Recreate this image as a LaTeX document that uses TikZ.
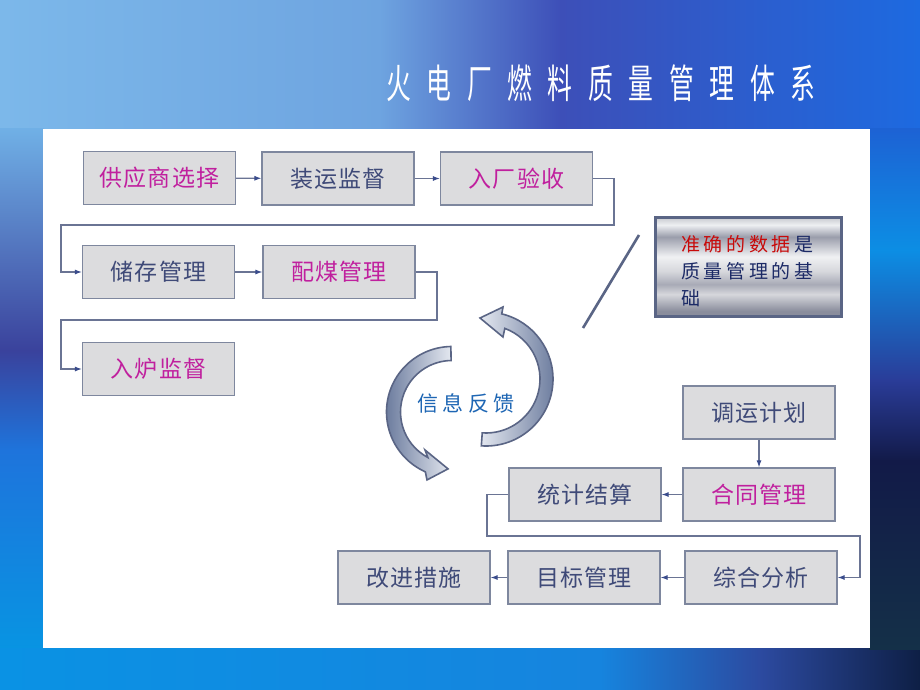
\documentclass[tikz,border=0pt]{standalone}
\usepackage{fontspec}
\setmainfont{Noto Sans CJK SC}
\newfontfamily\boxfont[LetterSpace=5]{Noto Sans CJK SC}
\newfontfamily\notefont[LetterSpace=19]{Noto Sans CJK SC}
\newfontfamily\fbfont[LetterSpace=22]{Noto Sans CJK SC}
\newfontfamily\titlefont[LetterSpace=63]{Noto Sans CJK SC}
\usetikzlibrary{arrows.meta}
\definecolor{boxfill}{HTML}{DCDCDE}
\definecolor{boxdraw}{HTML}{7E879E}
\definecolor{txtblue}{HTML}{3F4A78}
\definecolor{txtmag}{HTML}{C0209E}
\definecolor{lineclr}{HTML}{6A7494}
\definecolor{tipclr}{HTML}{3A4C8C}
\definecolor{calloutdraw}{HTML}{5A6585}
\definecolor{fbblue}{HTML}{1E66B4}
\definecolor{notered}{HTML}{C80A0A}
\definecolor{notenavy}{HTML}{1C2A66}
\definecolor{mta}{HTML}{C6C8CE}
\definecolor{mtb}{HTML}{EEF0F2}
\definecolor{mtc}{HTML}{9A9DAB}
\definecolor{mtd}{HTML}{F0F1F3}
\definecolor{mte}{HTML}{D6D7DC}
\definecolor{mtf}{HTML}{A8AAB6}
\definecolor{mtg}{HTML}{D6D7DC}
\definecolor{mth}{HTML}{8A8D9C}
\definecolor{arlight}{HTML}{E4E8F0}
\definecolor{ardark}{HTML}{6C7C9E}
\pgfdeclareverticalshading{metalband}{100bp}{color(0bp)=(mth); color(25bp)=(mth); color(27.5bp)=(mth); color(36bp)=(mtg); color(41bp)=(mtf); color(47.5bp)=(mte); color(55bp)=(mtd); color(65bp)=(mtc); color(71bp)=(mtb); color(75bp)=(mta); color(100bp)=(mta)}
\begin{document}
\begin{tikzpicture}[x=1pt,y=-1pt,
  stepbox/.style={draw=boxdraw, line width=1.2pt, fill=boxfill, minimum width=152pt, minimum height=53pt, inner sep=0pt, font=\boxfont\fontsize{23}{23}\selectfont, text=txtblue},
  hot/.style={text=txtmag},
  conn/.style={draw=lineclr, line width=1.1pt, -{Latex[length=7pt,width=5pt,color=tipclr]}},
  cyclearrow/.style={draw=calloutdraw, line width=1.6pt}]
\useasboundingbox (0,0) rectangle (920,690);
% background
\fill[blue!60!cyan] (0,0) rectangle (920,690);
\shade[left color={rgb,255:red,124;green,184;blue,234}, right color={rgb,255:red,110;green,164;blue,224}] (0,0) rectangle (380,129);
\shade[left color={rgb,255:red,110;green,164;blue,224}, right color={rgb,255:red,61;green,79;blue,184}] (379,0) rectangle (561,129);
\shade[left color={rgb,255:red,61;green,79;blue,184}, right color={rgb,255:red,29;green,106;blue,224}] (560,0) rectangle (920,129);
\shade[top color={rgb,255:red,112;green,176;blue,230}, bottom color={rgb,255:red,58;green,66;blue,156}] (0,128) rectangle (44,351);
\shade[top color={rgb,255:red,58;green,66;blue,156}, bottom color={rgb,255:red,30;green,116;blue,220}] (0,350) rectangle (44,451);
\shade[top color={rgb,255:red,30;green,116;blue,220}, bottom color={rgb,255:red,8;green,148;blue,226}] (0,450) rectangle (44,649);
\shade[left color={rgb,255:red,10;green,146;blue,228}, right color={rgb,255:red,22;green,132;blue,222}] (0,648) rectangle (601,690);
\shade[left color={rgb,255:red,22;green,132;blue,222}, right color={rgb,255:red,44;green,74;blue,160}] (600,648) rectangle (761,690);
\shade[left color={rgb,255:red,44;green,74;blue,160}, right color={rgb,255:red,14;green,31;blue,69}] (760,648) rectangle (920,690);
\shade[top color={rgb,255:red,29;green,98;blue,212}, bottom color={rgb,255:red,12;green,142;blue,228}] (869,128) rectangle (920,251);
\shade[top color={rgb,255:red,12;green,142;blue,228}, bottom color={rgb,255:red,42;green,60;blue,152}] (869,250) rectangle (920,381);
\shade[top color={rgb,255:red,42;green,60;blue,152}, bottom color={rgb,255:red,18;green,26;blue,72}] (869,380) rectangle (920,461);
\shade[top color={rgb,255:red,18;green,26;blue,72}, bottom color={rgb,255:red,20;green,48;blue,72}] (869,460) rectangle (920,649);
\fill[white] (43,129) rectangle (870,648);
% title
\node[anchor=west, text=white, inner sep=0pt] (title) at (386,83) {\scalebox{0.62}[1]{\titlefont\fontsize{40}{40}\selectfont 火电厂燃料质量管理体系}};
% boxes
\node[stepbox, hot] (sup) at (159.5,178) {供应商选择};
\node[stepbox] (ship) at (338,178.5) {装运监督};
\node[stepbox, hot] (recv) at (516.5,178.5) {入厂验收};
\node[stepbox] (store) at (158.5,272) {储存管理};
\node[stepbox, hot] (blend) at (339,272) {配煤管理};
\node[stepbox, hot] (feed) at (158.5,369) {入炉监督};
\node[stepbox] (plan) at (759,412.5) {调运计划};
\node[stepbox, hot] (contract) at (759,494.5) {合同管理};
\node[stepbox] (stat) at (585,494.5) {统计结算};
\node[stepbox] (improve) at (414,577.5) {改进措施};
\node[stepbox] (target) at (584,577.5) {目标管理};
\node[stepbox] (analysis) at (761,577.5) {综合分析};
% bend points
\coordinate (k1) at (614,225);
\coordinate (k2) at (61,225);
\coordinate (k3) at (437,320);
\coordinate (k4) at (61,320);
\coordinate (k5) at (487,536);
\coordinate (k6) at (860,536);
% connectors
\draw[conn] (sup) -- (ship);
\draw[conn] (ship) -- (recv);
\draw[conn] (recv.east) -| (k1) -- (k2) |- (store.west);
\draw[conn] (store) -- (blend);
\draw[conn] (blend.east) -| (k3) -- (k4) |- (feed.west);
\draw[conn] (plan) -- (contract);
\draw[conn] (contract) -- (stat);
\draw[conn] (stat.west) -| (k5) -- (k6) |- (analysis.east);
\draw[conn] (analysis) -- (target);
\draw[conn] (target) -- (improve);
% callout
\node[draw=calloutdraw, line width=3pt, minimum width=186pt, minimum height=99pt, shading=metalband, inner sep=0pt] (note) at (748.5,266.5) {};
\node[anchor=west, align=left, inner sep=0pt, text=notenavy, font=\notefont\fontsize{19}{27}\selectfont] (notetext) at (681,271) {{\color{notered}准确的数据}\kern3.6pt 是\\质量管理的基\\础};
\coordinate (lt) at (639,235);
\coordinate (lb) at (583,328);
\draw[calloutdraw, line width=2.6pt] (lt) -- (lb);
% cycle arrows
\shade[cyclearrow, left color=arlight, right color=ardark]
  ([shift={(486,379)}]94:67) arc[start angle=94, end angle=-76.4, radius=67]
  -- ([shift={(486,379)}]-76.7:74) -- ([shift={(486,379)}]-95.6:61.3)
  -- ([shift={(486,379)}]-68:45.3) -- ([shift={(486,379)}]-69.6:54)
  arc[start angle=-69.6, end angle=94, radius=54] -- cycle;
\shade[cyclearrow, left color=ardark, right color=arlight]
  ([shift={(452,412)}]269:65.5) arc[start angle=269, end angle=114, radius=65.5]
  -- ([shift={(452,412)}]110.2:72.4) -- ([shift={(452,412)}]94:57)
  -- ([shift={(452,412)}]125.4:46.6) -- ([shift={(452,412)}]118:51.5)
  arc[start angle=118, end angle=269, radius=51.5] -- cycle;
\node[text=fbblue, font=\fbfont\fontsize{21}{21}\selectfont, inner sep=0pt] (fb) at (466,403) {信息反馈};
\end{tikzpicture}
\end{document}
